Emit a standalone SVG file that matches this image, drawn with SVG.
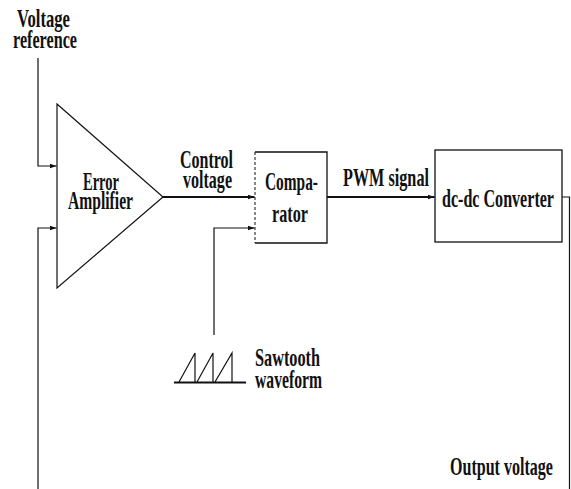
<svg xmlns="http://www.w3.org/2000/svg" width="571" height="489" viewBox="0 0 571 489">
<style>
text{font-family:"Liberation Serif","Times New Roman",serif;font-weight:bold;font-size:26px;fill:#111}
.ln{fill:none;stroke:#111;stroke-width:1.2}
.th{fill:none;stroke:#111;stroke-width:2}
.box{fill:#fff;stroke:#111;stroke-width:1.3}
</style>
<defs>
<marker id="ah" markerWidth="8" markerHeight="6" refX="7" refY="3" orient="auto" markerUnits="userSpaceOnUse">
<path d="M0,0.5 L7,3 L0,5.5 Z" fill="#111"/>
</marker>
</defs>
<g id="connectors">
<path class="ln" d="M38,58 V166 H56.5" marker-end="url(#ah)"/>
<path class="ln" d="M38,489 V228 H56.5" marker-end="url(#ah)"/>
<path class="th" d="M163,197 H254.5" marker-end="url(#ah)"/>
<path class="ln" d="M214,335 V228 H254.5" marker-end="url(#ah)"/>
<path class="th" d="M327,197 H434.5" marker-end="url(#ah)"/>
<path class="ln" d="M562,197 H569.5 V489"/>
</g>
<g id="voltage-reference">
<text x="17" y="27" textLength="53" lengthAdjust="spacingAndGlyphs">Voltage</text>
<text x="13" y="48" textLength="64" lengthAdjust="spacingAndGlyphs">reference</text>
</g>
<g id="error-amplifier">
<path class="ln" d="M57,104 L163,197 L57,288 Z" style="fill:#fff"/>
<text x="83" y="190" textLength="36" lengthAdjust="spacingAndGlyphs">Error</text>
<text x="68" y="209" textLength="65" lengthAdjust="spacingAndGlyphs">Amplifier</text>
</g>
<g id="control-voltage">
<text x="180" y="168" textLength="53" lengthAdjust="spacingAndGlyphs">Control</text>
<text x="183" y="188" textLength="49" lengthAdjust="spacingAndGlyphs">voltage</text>
</g>
<g id="comparator">
<path class="box" d="M255,152 H327 V243 H255"/>
<path d="M255,152 V243" stroke="#111" stroke-width="1" stroke-dasharray="3,2"/>
<text x="265" y="190" textLength="53" lengthAdjust="spacingAndGlyphs">Compa-</text>
<text x="272" y="222" textLength="36" lengthAdjust="spacingAndGlyphs">rator</text>
</g>
<g id="pwm-signal">
<text x="343" y="186" textLength="86" lengthAdjust="spacingAndGlyphs">PWM signal</text>
</g>
<g id="dc-dc-converter">
<rect class="box" x="435" y="150" width="127" height="92"/>
<text x="442" y="207" textLength="112" lengthAdjust="spacingAndGlyphs">dc-dc Converter</text>
</g>
<g id="sawtooth">
<path d="M174,382.5 H246" stroke="#111" stroke-width="2"/>
<path class="ln" d="M179,382 L195,353 V382 M197,382 L213,353 V382 M215,382 L232,353 V382"/>
<text x="255" y="366" textLength="65" lengthAdjust="spacingAndGlyphs">Sawtooth</text>
<text x="255" y="388" textLength="67" lengthAdjust="spacingAndGlyphs">waveform</text>
</g>
<g id="output-voltage">
<text x="450" y="475" textLength="103" lengthAdjust="spacingAndGlyphs">Output voltage</text>
</g>
</svg>
